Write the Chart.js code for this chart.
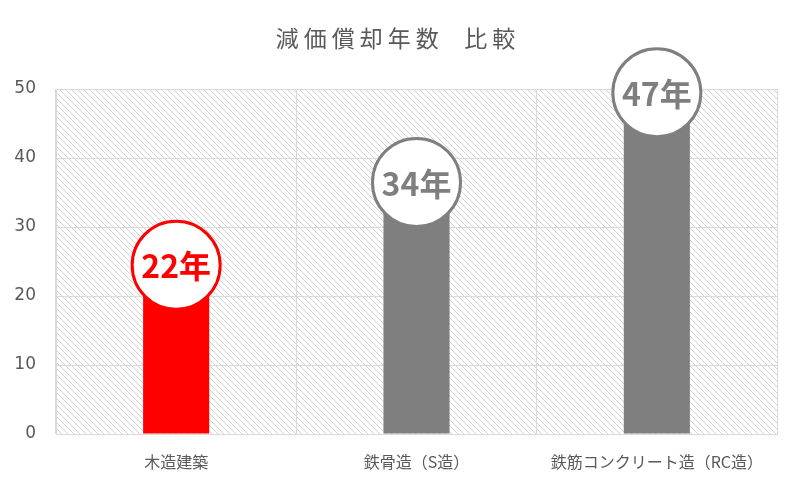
<!DOCTYPE html>
<html>
<head>
<meta charset="utf-8">
<script src="https://cdn.jsdelivr.net/npm/chart.js@4"></script>
<style>
  html, body { margin: 0; padding: 0; background: #fff; }
  #wrap { width: 800px; height: 491px; position: relative; }
</style>
</head>
<body>
<div id="wrap"><canvas id="c"></canvas></div>
<script>
const titleText = '減価償却年数  比較';
const categories = ['木造建築', '鉄骨造（S造）', '鉄筋コンクリート造（RC造）'];
const values = [22, 34, 47];
const labelSuffix = '年';
const yTicks = [0, 10, 20, 30, 40, 50];

const barColors = ['#FF0000', '#7F7F7F', '#7F7F7F'];
const gridColor = '#D9D9D9';
const textColor = '#595959';
const cjk = '"Noto Sans CJK JP", "Noto Sans", sans-serif';

function makeHatch() {
  const s = 6;
  const c = document.createElement('canvas');
  c.width = s; c.height = s;
  const g = c.getContext('2d');
  g.fillStyle = '#ffffff';
  g.fillRect(0, 0, s, s);
  g.strokeStyle = '#d4d4d4';
  g.lineWidth = 1;
  g.beginPath();
  g.moveTo(-1, -1); g.lineTo(s + 1, s + 1);
  g.moveTo(-1, s - 1); g.lineTo(1, s + 1);
  g.moveTo(s - 1, -1); g.lineTo(s + 1, 1);
  g.stroke();
  return c;
}

const hatchPlugin = {
  id: 'hatch',
  beforeDraw(chart) {
    const { ctx, chartArea: a } = chart;
    ctx.save();
    ctx.fillStyle = ctx.createPattern(makeHatch(), 'repeat');
    ctx.fillRect(a.left, a.top, a.right - a.left, a.bottom - a.top);
    ctx.restore();
  }
};

const titlePlugin = {
  id: 'customTitle',
  afterDraw(chart) {
    const { ctx } = chart;
    ctx.save();
    ctx.font = '23px ' + cjk;
    ctx.fillStyle = textColor;
    if ('letterSpacing' in ctx) ctx.letterSpacing = '5px';
    ctx.textAlign = 'center';
    ctx.textBaseline = 'middle';
    ctx.fillText(titleText, 398, 38);
    ctx.restore();
  }
};

const circlePlugin = {
  id: 'circleLabels',
  afterDatasetsDraw(chart) {
    const { ctx } = chart;
    const meta = chart.getDatasetMeta(0);
    meta.data.forEach((bar, i) => {
      const cx = bar.x, cy = bar.y - 17;
      const col = barColors[i];
      ctx.save();
      ctx.beginPath();
      ctx.arc(cx, cy, 44, 0, Math.PI * 2);
      ctx.fillStyle = '#ffffff';
      ctx.fill();
      ctx.lineWidth = 3;
      ctx.strokeStyle = col;
      ctx.stroke();
      ctx.font = 'bold 32px ' + cjk;
      ctx.fillStyle = col;
      ctx.textAlign = 'center';
      ctx.textBaseline = 'middle';
      ctx.fillText(values[i] + labelSuffix, cx, cy + 1);
      ctx.restore();
    });
  }
};

new Chart(document.getElementById('c'), {
  type: 'bar',
  data: {
    labels: categories,
    datasets: [{
      data: values,
      backgroundColor: barColors,
      borderWidth: 0,
      barPercentage: 0.275,
      categoryPercentage: 1.0
    }]
  },
  options: {
    responsive: true,
    maintainAspectRatio: false,
    animation: false,
    layout: { padding: { top: 89, right: 23, left: 0, bottom: 0 } },
    plugins: {
      legend: { display: false },
      title: { display: false },
      tooltip: { enabled: false }
    },
    scales: {
      x: {
        grid: { color: gridColor, drawTicks: false, offset: true },
        border: { color: gridColor },
        ticks: { color: textColor, font: { family: cjk, size: 16 }, padding: 18 },
        afterFit(scale) { scale.height = 57; }
      },
      y: {
        min: 0, max: 50,
        afterBuildTicks(scale) { scale.ticks = yTicks.map(v => ({ value: v })); },
        grid: { color: gridColor, drawTicks: false },
        border: { color: gridColor },
        ticks: { color: textColor, font: { family: 'DejaVu Sans', size: 17 }, padding: 20 },
        afterFit(scale) { scale.width = 56; }
      }
    }
  },
  plugins: [hatchPlugin, circlePlugin, titlePlugin]
});
</script>
</body>
</html>
